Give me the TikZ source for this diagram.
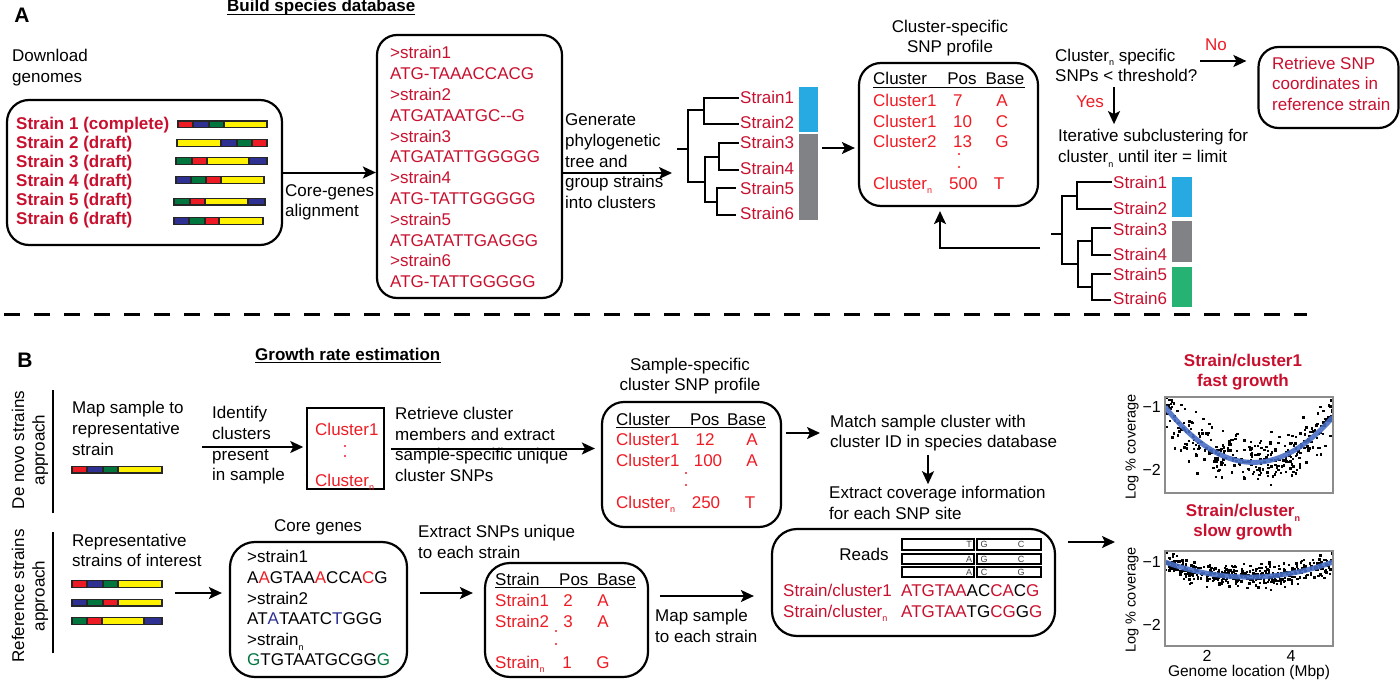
\documentclass[tikz,border=0pt]{standalone}
\usepackage{fontspec}
\setmainfont{Liberation Sans}
\usetikzlibrary{arrows.meta,calc}
\definecolor{dred}{RGB}{200,16,46}
\definecolor{bred}{RGB}{237,28,36}
\definecolor{gred}{RGB}{237,28,36}
\definecolor{gblue}{RGB}{46,49,146}
\definecolor{ggreen}{RGB}{0,118,62}
\definecolor{gyellow}{RGB}{255,242,0}
\definecolor{cblue}{RGB}{39,170,225}
\definecolor{cgray}{RGB}{128,130,133}
\definecolor{cgreen}{RGB}{38,178,114}
\definecolor{pblue}{RGB}{72,110,196}
\definecolor{sblue}{RGB}{46,49,146}
\definecolor{sgreen}{RGB}{0,118,62}
\newcommand\subn{\raisebox{-0.28em}{\fontsize{9}{9}\selectfont n}}
\newcommand\gbar[2]{\foreach \sa/\sb/\sc in {#2}{\filldraw[fill=\sc,draw=black!85,line width=1.2pt] (\sa,#1-3.4) rectangle (\sb,#1+3.4);}}
\begin{document}
\begin{tikzpicture}[x=1pt,y=-1pt,font=\fontsize{17}{20.7}\selectfont,
  txt/.style={inner sep=0pt,align=left},
  cell/.style={inner sep=0pt,anchor=base west},
  cellc/.style={inner sep=0pt,anchor=base},
  arr/.style={line width=2pt,-{Stealth[length=13pt,width=12pt,inset=3pt]}},
  rbox/.style={draw,line width=2.2pt,rounded corners=22pt},
  tree/.style={line width=2pt,line cap=rect},
  hd/.style={font=\fontsize{17}{20.7}\selectfont\bfseries,inner sep=0pt},
  panel/.style={font=\fontsize{21}{21}\selectfont\bfseries,inner sep=0pt},
  small/.style={font=\fontsize{9}{9}\selectfont,inner sep=0pt,text=black!75},
  tick/.style={font=\fontsize{16}{16}\selectfont,inner sep=0pt},
  axl/.style={font=\fontsize{14.5}{14.5}\selectfont,inner sep=0pt},
  ptitle/.style={font=\fontsize{17}{20}\selectfont\bfseries,text=dred,align=center,inner sep=0pt},
  ul/.style={line width=1.2pt},
  dot/.style={fill,circle,inner sep=0pt,minimum size=2.3pt}
  ]
\useasboundingbox (0,0) rectangle (1400,682);

%%%%%%%%%%%%%%%% Panel A
\node[panel] (labA) at (22,15.5) {A};
\node[hd,anchor=base west] (bsd) at (227,12) {Build species database};
\draw[ul,line width=1.4pt] ([yshift=-2.5pt]bsd.base west) -- ([yshift=-2.5pt]bsd.base east);

\node[txt,anchor=west] (dl) at (12,67.8) {Download\\genomes};
\node[rbox,minimum width=275,minimum height=145] (genomes) at (144.5,172.5) {};
\node[txt,anchor=west,font=\fontsize{17}{19}\selectfont\bfseries,text=dred] (slist) at (16,172.3)
  {Strain 1 (complete)\\Strain 2 (draft)\\Strain 3 (draft)\\Strain 4 (draft)\\Strain 5 (draft)\\Strain 6 (draft)};
\gbar{124.5}{178/193/gred,193/209/gblue,209/224/ggreen,224/267/gyellow}
\gbar{143}{177/221/gyellow,221/237/gblue,237/252/ggreen,252/267/gred}
\gbar{161}{176/192/ggreen,192/207/gred,207/249/gyellow,249/267/gblue}
\gbar{180}{176/191/gblue,191/206/ggreen,206/221/gred,221/264/gyellow}
\gbar{201.5}{174/190/ggreen,190/205/gred,205/248/gyellow,248/265/gblue}
\gbar{221}{174/189/gblue,189/205/ggreen,205/219/gred,219/263/gyellow}

\node[rbox,rounded corners=20pt,minimum width=185,minimum height=263] (aln) at (469.5,166.5) {};
\node[txt,anchor=west,text=dred,font=\fontsize{17}{20.8}\selectfont] (alnt) at (390,167.3)
  {>strain1\\ATG-TAAACCACG\\>strain2\\ATGATAATGC-{}-G\\>strain3\\ATGATATTGGGGG\\>strain4\\ATG-TATTGGGGG\\>strain5\\ATGATATTGAGGG\\>strain6\\ATG-TATTGGGGG};
\draw[arr] (genomes.east) -- (genomes.east -| aln.west);
\node[txt,anchor=west] (cga) at (285,202.3) {Core-genes\\alignment};

\node[txt,anchor=west] (gen) at (565,161.3) {Generate\\phylogenetic\\tree and\\group strains\\into clusters};
\coordinate (t1in) at (672,173);
\draw[arr] (aln.east |- t1in) -- (t1in);

% tree 1
\draw[tree] (678,149) -- (688,149)
  (688,110) -- (688,182)
  (688,110) -- (704,110) (704,98) -- (704,124) (704,98) -- (738,98) (704,124) -- (738,124)
  (688,182) -- (705,182) (705,157) -- (705,202)
  (705,157) -- (719,157) (719,143) -- (719,170) (719,143) -- (738,143) (719,170) -- (738,170)
  (705,202) -- (717,202) (717,188) -- (717,215) (717,188) -- (735,188) (717,215) -- (735,215);
\foreach \nm/\yy/\lab in {ta1/98/Strain1,ta2/123/Strain2,ta3/143/Strain3,ta4/169/Strain4,ta5/188/Strain5,ta6/213/Strain6}
  {\node[cell,text=dred] (\nm) at (740,\yy+6) {\lab};}
\fill[cblue] (799,87) rectangle (818,132);
\fill[cgray] (799,134) rectangle (818,220);

\node[rbox,minimum width=179,minimum height=143] (snp1) at (948.5,134.5) {};
\coordinate (t1out) at (822,148);
\draw[arr,shorten >=3pt] (t1out) -- (t1out -| snp1.west);
\node[align=center,inner sep=0pt] (snp1t) at (950,38) {Cluster-specific\\SNP profile};
\node[cell] (h1c) at (873,85) {Cluster};
\node[cellc] (h1p) at (962,85) {Pos};
\node[cellc] (h1b) at (1005,85) {Base};
\draw[ul] ([yshift=-2.5pt]h1c.base west) -- ([yshift=-2.5pt]h1b.base east);
\node[cell,text=bred] (r1a) at (873,107) {Cluster1};
\node[cell,text=bred] (r1b) at (953,107) {7};
\node[cellc,text=bred] (r1c) at (1002,107) {A};
\node[cell,text=bred] (r2a) at (873,128) {Cluster1};
\node[cell,text=bred] (r2b) at (953,128) {10};
\node[cellc,text=bred] (r2c) at (1002,128) {C};
\node[cell,text=bred] (r3a) at (873,148) {Cluster2};
\node[cell,text=bred] (r3b) at (953,148) {13};
\node[cellc,text=bred] (r3c) at (1002,148) {G};
\node[dot,bred] (d1a) at (959,154) {};
\node[dot,bred] (d1b) at (959,167) {};
\node[cell,text=bred] (r4a) at (873,189) {Cluster\subn};
\node[cell,text=bred] (r4b) at (949,189) {500};
\node[cellc,text=bred] (r4c) at (999,189) {T};

\node[txt,anchor=west] (q) at (1055,65.3) {Cluster\subn{} specific\\SNPs < threshold?};
\node[inner sep=0pt,text=bred] (no) at (1216,45) {No};
\node[rbox,rounded corners=20pt,minimum width=140,minimum height=81] (ret) at (1328.5,87.5) {};
\node[txt,anchor=west,text=dred] (rett) at (1272,83.8) {Retrieve SNP\\coordinates in\\reference strain};
\coordinate (noA) at (1200,61);
\draw[arr,shorten >=11pt] (noA) -- (noA -| ret.west);
\node[inner sep=0pt,text=bred] (yes) at (1090,102) {Yes};
\node[txt,anchor=west] (iter) at (1058,148.2) {Iterative subclustering for\\cluster\subn{} until iter = limit};
\coordinate (yA) at (1114,87);
\draw[arr,shorten >=5pt] (yA) -- (yA |- iter.north);

% tree 2
\draw[tree] (1052,234) -- (1062,234)
  (1062,196) -- (1062,264)
  (1062,196) -- (1077,196) (1077,182) -- (1077,209) (1077,182) -- (1111,182) (1077,209) -- (1111,209)
  (1062,264) -- (1078,264) (1078,241) -- (1078,287)
  (1078,241) -- (1092,241) (1092,228) -- (1092,255) (1092,228) -- (1110,228) (1092,255) -- (1110,255)
  (1078,287) -- (1092,287) (1092,274) -- (1092,300) (1092,274) -- (1110,274) (1092,300) -- (1110,300);
\foreach \nm/\yy/\lab in {tb1/182/Strain1,tb2/208/Strain2,tb3/229/Strain3,tb4/254/Strain4,tb5/274/Strain5,tb6/298/Strain6}
  {\node[cell,text=dred] (\nm) at (1113,\yy+6) {\lab};}
\fill[cblue] (1172,177) rectangle (1192,217);
\fill[cgray] (1172,221) rectangle (1192,262);
\fill[cgreen] (1172,267) rectangle (1192,307);
\coordinate (fb) at (1040,248);
\coordinate (fbc) at (940,248);
\draw[arr,shorten >=4pt] (fb) -- (fbc) -- (fbc |- snp1.south);

% separator
\coordinate (sepL) at (4,314);
\coordinate (sepR) at (1307,314);
\draw[line width=3pt,dash pattern=on 16pt off 14pt] (sepL) -- (sepR);

%%%%%%%%%%%%%%%% Panel B
\node[panel] (labB) at (25,360) {B};
\node[hd,anchor=base west] (gre) at (255,360) {Growth rate estimation};
\draw[ul,line width=1.4pt] ([yshift=-2.5pt]gre.base west) -- ([yshift=-2.5pt]gre.base east);

\node[rotate=90,align=center,inner sep=0pt] (dnv) at (30,450) {De novo strains\\approach};
\node[rotate=90,align=center,inner sep=0pt] (rsa) at (30,596) {Reference strains\\approach};
\coordinate (v1a) at (53,390); \coordinate (v1b) at (53,513);
\coordinate (v2a) at (53,532); \coordinate (v2b) at (53,653);
\draw[line width=1.5pt] (v1a) -- (v1b) (v2a) -- (v2b);

\node[txt,anchor=west] (map) at (72,428.3) {Map sample to\\representative\\strain};
\gbar{469.5}{72/87/gred,87/103/gblue,103/118/ggreen,118/162/gyellow}
\node[txt,anchor=west] (ident) at (212,445.3) {Identify\\clusters\\present\\in sample};
\node[draw,line width=1.5pt,minimum width=77,minimum height=81] (clb) at (345.5,448.5) {};
\coordinate (idA) at (202,447);
\draw[arr,shorten >=3pt] (idA) -- (idA -| clb.west);
\node[cell,text=bred] (clb1) at (315,435) {Cluster1};
\node[dot,bred] (d2a) at (345,446) {};
\node[dot,bred] (d2b) at (345,456) {};
\node[cell,text=bred] (clbn) at (315,486) {Cluster\subn};

\node[txt,anchor=west] (retr) at (395,444.3) {Retrieve cluster\\members and extract\\sample-specific unique\\cluster SNPs};
\node[rbox,minimum width=179,minimum height=125] (sbox) at (691.5,464.5) {};
\draw[arr,shorten <=6pt,shorten >=6pt] (clb.east) -- (clb.east -| sbox.west);
\node[align=center,inner sep=0pt] (sst) at (690,376) {Sample-specific\\cluster SNP profile};
\node[cell] (h2c) at (616,425) {Cluster};
\node[cell] (h2p) at (690,425) {Pos};
\node[inner sep=0pt,anchor=base east] (h2b) at (766,425) {Base};
\draw[ul] ([yshift=-2.5pt]h2c.base west) -- ([yshift=-2.5pt]h2b.base east);
\node[cell,text=bred] (s1a) at (616,445) {Cluster1};
\node[cellc,text=bred] (s1b) at (705,445) {12};
\node[cellc,text=bred] (s1c) at (752,445) {A};
\node[cell,text=bred] (s2a) at (616,466) {Cluster1};
\node[cellc,text=bred] (s2b) at (708,466) {100};
\node[cellc,text=bred] (s2c) at (752,466) {A};
\node[dot,bred] (d3a) at (686,473) {};
\node[dot,bred] (d3b) at (686,485) {};
\node[cell,text=bred] (s3a) at (616,508) {Cluster\subn};
\node[cellc,text=bred] (s3b) at (706,508) {250};
\node[cellc,text=bred] (s3c) at (750,508) {T};

\node[txt,anchor=west] (match) at (830,433) {Match sample cluster with\\cluster ID in species database};
\draw[arr,shorten <=4pt,shorten >=10pt] (sbox.east |- match.west) -- (match.west);
\node[txt,anchor=west] (extr) at (829,503) {Extract coverage information\\for each SNP site};
\coordinate (mA) at (928,455);
\draw[arr,shorten >=2pt] (mA) -- (mA |- extr.north);

\node[rbox,rounded corners=25pt,minimum width=283,minimum height=107] (reads) at (913.5,582.5) {};
\node[inner sep=0pt] (readsl) at (864,554) {Reads};
\foreach \ya/\yb in {539/550,554/564,567/577}{
  \draw[line width=1.5pt] (902,\ya) rectangle (974,\yb);
  \draw[line width=1.5pt] (977,\ya) rectangle (1041,\yb);}
\foreach \nm/\yy/\la/\lb/\lc in {rd1/544.5/T/G/C,rd2/559/A/G/C,rd3/572/A/C/G}{
  \node[small] (\nm a) at (969,\yy) {\la};
  \node[small] (\nm b) at (984,\yy) {\lb};
  \node[small] (\nm c) at (1021,\yy) {\lc};}
\node[cell,text=dred] (sc1) at (783,596) {Strain/cluster1};
\node[cell,text=dred] (seq1) at (901,596) {ATGTAA\textcolor{black}{AC}CA\textcolor{black}{C}G};
\node[cell,text=dred] (scn) at (783,617) {Strain/cluster\subn};
\node[cell,text=dred] (seqn) at (901,617) {ATGTAA\textcolor{black}{TG}CG\textcolor{black}{G}G};
\coordinate (plotin) at (1115,542);
\draw[arr,shorten <=12pt] (reads.east |- plotin) -- (plotin);

\node[txt,anchor=west] (rep) at (72,550.5) {Representative\\strains of interest};
\gbar{584}{72/87/gred,87/103/gblue,103/118/ggreen,118/162/gyellow}
\gbar{602.5}{72/87/gblue,87/103/ggreen,103/118/gred,118/162/gyellow}
\gbar{621}{72/87/ggreen,87/102/gred,102/144/gyellow,144/162/gblue}
\node[rbox,rounded corners=25pt,minimum width=177,minimum height=135] (core) at (318.5,609.5) {};
\coordinate (rsA) at (175,593);
\draw[arr,shorten >=7pt] (rsA) -- (rsA -| core.west);
\node[inner sep=0pt] (coret) at (318,527) {Core genes};
\node[txt,anchor=west,font=\fontsize{17}{20.6}\selectfont] (coreseq) at (247,608.3)
  {>strain1\\A\textcolor{bred}{A}GTAA\textcolor{bred}{A}CCA\textcolor{bred}{C}G\\>strain2\\AT\textcolor{sblue}{A}TAATC\textcolor{sblue}{T}GGG\\>strain\subn\\\textcolor{sgreen}{G}TGTAATGCGG\textcolor{sgreen}{G}};

\node[txt,anchor=west] (exs) at (418,542) {Extract SNPs unique\\to each strain};
\node[rbox,rounded corners=25pt,minimum width=163,minimum height=114] (stb) at (566.5,620) {};
\draw[arr,shorten <=12pt,shorten >=11pt] (core.east |- rsA) -- (stb.west |- rsA);
\node[cell] (h3c) at (495,585) {Strain};
\node[cell] (h3p) at (559,585) {Pos};
\node[inner sep=0pt,anchor=base east] (h3b) at (636,585) {Base};
\draw[ul] ([yshift=-2.5pt]h3c.base west) -- ([yshift=-2.5pt]h3b.base east);
\node[cell,text=bred] (u1a) at (495,606) {Strain1};
\node[cellc,text=bred] (u1b) at (568,606) {2};
\node[cellc,text=bred] (u1c) at (603,606) {A};
\node[cell,text=bred] (u2a) at (495,627) {Strain2};
\node[cellc,text=bred] (u2b) at (568,627) {3};
\node[cellc,text=bred] (u2c) at (603,627) {A};
\node[dot,bred] (d4a) at (556,631) {};
\node[dot,bred] (d4b) at (556,644) {};
\node[cell,text=bred] (u3a) at (495,668) {Strain\subn};
\node[cellc,text=bred] (u3b) at (567,668) {1};
\node[cellc,text=bred] (u3c) at (603,668) {G};

\coordinate (msA) at (660,596);
\draw[arr,shorten >=17pt] (msA) -- (msA -| reads.west);
\node[txt,anchor=west] (mse) at (655,626) {Map sample\\to each strain};

%%%%%%%%%%%%%%%% plots
\node[ptitle] (pt1) at (1243,372) {Strain/cluster1\\fast growth};
\begin{scope}
  \clip (1165,397) rectangle (1333,493);
  \pgfmathsetseed{11}
  \foreach \i in {1,...,330}{
    \pgfmathsetmacro\xx{1+4*rnd}
    \pgfmathsetmacro\yy{462.4-12.6*(\xx-3.1)*(\xx-3.1)+12*(rand+rand+rand)}
    \fill ({1165+(\xx-1)*42-1.2},{\yy-1.2}) rectangle ++(2.4,2.4);
  }
  \draw[pblue,line width=5pt,opacity=0.9] plot[domain=1:5,samples=60] ({1165+(\x-1)*42},{462.4-12.6*(\x-3.1)*(\x-3.1)});
\end{scope}
\draw[black!45,line width=1.5pt] (1165,397) rectangle (1333,493);
\node[tick,anchor=east] (p1t1) at (1161,407) {−1};
\node[tick,anchor=east] (p1t2) at (1161,470) {−2};
\node[axl,rotate=90] (p1y) at (1132,447) {Log \% coverage};

\node[ptitle] (pt2) at (1243,522) {Strain/cluster\subn\\slow growth};
\begin{scope}
  \clip (1165,551) rectangle (1333,646);
  \pgfmathsetseed{23}
  \foreach \i in {1,...,430}{
    \pgfmathsetmacro\xx{1+4*rnd}
    \pgfmathsetmacro\yy{577.1-3.78*(\xx-3)*(\xx-3)+5.5*(rand+rand+rand)}
    \fill ({1165+(\xx-1)*42-1.2},{\yy-1.2}) rectangle ++(2.4,2.4);
  }
  \draw[pblue,line width=5pt,opacity=0.9] plot[domain=1:5,samples=60] ({1165+(\x-1)*42},{577.1-3.78*(\x-3)*(\x-3)});
\end{scope}
\draw[black!45,line width=1.5pt] (1165,551) rectangle (1333,646);
\node[tick,anchor=east] (p2t1) at (1161,562) {−1};
\node[tick,anchor=east] (p2t2) at (1161,625) {−2};
\node[axl,rotate=90] (p2y) at (1132,600) {Log \% coverage};
\node[tick] (p2x2) at (1207,656) {2};
\node[tick] (p2x4) at (1291,656) {4};
\node[inner sep=0pt,font=\fontsize{15.5}{15.5}\selectfont] (p2xl) at (1249,672) {Genome location (Mbp)};
\end{tikzpicture}
\end{document}
